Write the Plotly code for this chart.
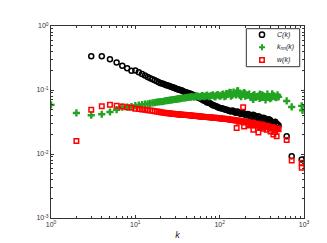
import plotly.graph_objects as go

# ---- data ----
k_C = [3, 4, 5, 6, 7, 8, 9, 10, 11, 12, 13, 14, 15, 16, 17, 18, 19, 20, 22, 24, 26, 28, 30, 32, 34, 36, 39, 42, 45, 48,
       52, 56, 60, 64, 69, 74, 80, 86, 92, 99, 106, 114, 122, 131, 141, 151, 162, 174, 187, 201, 216, 232, 249, 267,
       287, 308, 331, 355, 381, 409, 439, 471, 500, 623, 715, 939]
C_vals = [0.336, 0.336, 0.302, 0.268, 0.239, 0.218, 0.199, 0.201, 0.190, 0.178, 0.169, 0.160, 0.152, 0.147, 0.142,
          0.137, 0.132, 0.128, 0.123, 0.118, 0.113, 0.109, 0.106, 0.103, 0.100, 0.097, 0.093, 0.090, 0.087, 0.084,
          0.080, 0.076, 0.073, 0.069, 0.066, 0.063, 0.060, 0.057, 0.055, 0.053, 0.052, 0.050, 0.049, 0.047, 0.048,
          0.045, 0.046, 0.043, 0.044, 0.041, 0.042, 0.039, 0.041, 0.038, 0.039, 0.036, 0.037, 0.034, 0.035, 0.032,
          0.031, 0.030, 0.028, 0.019, 0.0092, 0.0082]
# further degrees in the dense band
k_C_band = [21, 23, 25, 27, 29, 31, 33, 35, 38, 40, 43, 46, 50, 54, 58, 62, 66, 71, 77, 83, 89, 95, 102, 110, 118,
            126, 136, 146, 156, 168, 180, 194, 208, 224, 240, 258, 277, 297, 319, 343, 368, 395, 424, 455, 485]
C_band = [0.126, 0.120, 0.116, 0.111, 0.108, 0.104, 0.101, 0.099, 0.094, 0.092, 0.089, 0.086, 0.082, 0.078, 0.074,
          0.071, 0.068, 0.064, 0.062, 0.058, 0.056, 0.054, 0.052, 0.051, 0.049, 0.048, 0.046, 0.047, 0.044, 0.045,
          0.042, 0.043, 0.040, 0.041, 0.038, 0.040, 0.037, 0.038, 0.035, 0.036, 0.033, 0.034, 0.031, 0.032, 0.029]

k_knn = [1, 2, 3, 4, 5, 6, 7, 8, 9, 10, 11, 12, 13, 14, 15, 16, 17, 18, 19, 20, 22, 24, 26, 28, 30, 32, 34, 36, 39, 42,
         45, 48, 52, 56, 60, 64, 69, 74, 80, 86, 92, 99, 106, 114, 120, 122, 131, 135, 141, 151, 162, 165, 174, 187,
         200, 201, 216, 232, 249, 250, 267, 287, 300, 308, 331, 350, 355, 381, 409, 420, 439, 471, 500,
         623, 715, 939, 960]
knn_vals = [0.0586, 0.0438, 0.0404, 0.0418, 0.0453, 0.0492, 0.054, 0.054, 0.0552, 0.0572, 0.0582, 0.0592, 0.0602,
            0.0608, 0.0617, 0.0628, 0.0636, 0.0645, 0.0651, 0.0658, 0.0670, 0.0682, 0.0694, 0.0705, 0.0715, 0.0725,
            0.0735, 0.0743, 0.0756, 0.0767, 0.0775, 0.0784, 0.080, 0.079, 0.0795, 0.080, 0.081, 0.079, 0.082, 0.080,
            0.083, 0.081, 0.084, 0.079, 0.088, 0.085, 0.092, 0.091, 0.083, 0.089, 0.097, 0.097, 0.082, 0.086, 0.089,
            0.080, 0.084, 0.078, 0.082, 0.071, 0.077, 0.080, 0.086, 0.076, 0.081, 0.070, 0.077, 0.079, 0.075, 0.087,
            0.080, 0.076, 0.078, 0.0674, 0.0543, 0.0565, 0.048]
k_knn_band = [21, 23, 25, 27, 29, 31, 33, 35, 38, 40, 43, 46, 50, 54, 58, 62, 66, 71, 77, 83, 89, 95, 102, 110, 118,
              126, 136, 146, 156, 168, 180, 194, 208, 224, 240, 258, 277, 297, 319, 343, 368, 395, 424, 455, 485]
knn_band = [0.066, 0.068, 0.069, 0.070, 0.071, 0.072, 0.073, 0.074, 0.075, 0.076, 0.077, 0.078, 0.077, 0.081, 0.078,
            0.082, 0.079, 0.083, 0.080, 0.084, 0.078, 0.085, 0.080, 0.086, 0.081, 0.087, 0.080, 0.093, 0.084, 0.088,
            0.079, 0.091, 0.082, 0.086, 0.076, 0.085, 0.079, 0.074, 0.084, 0.078, 0.086, 0.073, 0.082, 0.077, 0.084]

k_w = [2, 3, 4, 5, 6, 7, 8, 9, 10, 11, 12, 13, 14, 15, 16, 17, 18, 19, 20, 22, 24, 26, 28, 30, 32, 34, 36, 39, 42,
       45, 48, 52, 56, 60, 64, 69, 74, 80, 86, 92, 99, 106, 114, 122, 131, 141, 151, 159, 162, 174, 187, 190, 195,
       201, 216, 220, 232, 249, 251, 267, 287, 288, 300, 308, 327, 331, 355, 361, 381, 400, 409, 433, 439, 450,
       471, 474, 500, 623, 715, 939, 939]
w_vals = [0.0159, 0.0492, 0.0558, 0.0586, 0.0566, 0.0552, 0.054, 0.0528, 0.051, 0.0505, 0.0498, 0.0493, 0.0484,
          0.0477, 0.0472, 0.0467, 0.0461, 0.0456, 0.0451, 0.0443, 0.0435, 0.0429, 0.0424, 0.0420, 0.0417, 0.0414,
          0.0410, 0.0408, 0.0405, 0.0401, 0.0397, 0.0393, 0.0389, 0.0385, 0.0382, 0.0379, 0.0376, 0.0372, 0.0368,
          0.0366, 0.0362, 0.0358, 0.0354, 0.0351, 0.0347, 0.0342, 0.0337, 0.0254, 0.0333, 0.0327, 0.0322, 0.054,
          0.027, 0.0317, 0.0312, 0.028, 0.0305, 0.0300, 0.024, 0.0295, 0.0292, 0.0216, 0.026, 0.0285, 0.0248,
          0.0280, 0.0276, 0.0239, 0.0268, 0.0224, 0.0261, 0.0201, 0.0257, 0.022, 0.0248, 0.019, 0.0243,
          0.0165, 0.0079, 0.0073, 0.0061]
k_w_band = [21, 23, 25, 27, 29, 31, 33, 35, 38, 40, 43, 46, 50, 54, 58, 62, 66, 71, 77, 83, 89, 95, 102, 110, 118,
            126, 136, 146, 156, 168, 180, 194, 208, 224, 240, 258, 277, 297, 319, 343, 368, 395, 424, 455, 485]
w_band = [0.0447, 0.0439, 0.0432, 0.0426, 0.0422, 0.0418, 0.0415, 0.0412, 0.0409, 0.0406, 0.0403, 0.0399, 0.0395,
          0.0391, 0.0387, 0.0383, 0.0380, 0.0377, 0.0374, 0.0370, 0.0367, 0.0364, 0.0360, 0.0356, 0.0352, 0.0349,
          0.0344, 0.0340, 0.0335, 0.0318, 0.0330, 0.0310, 0.0320, 0.0290, 0.0310, 0.0280, 0.0298, 0.0270, 0.0288,
          0.0262, 0.0272, 0.0250, 0.0262, 0.0235, 0.0250]

series_names = ["C(k)", "k<sub>nn</sub>(k)", "w(k)"]
x_tickvals = [1, 10, 100, 1000]
x_ticktext = ["10<sup>0</sup>", "10<sup>1</sup>", "10<sup>2</sup>", "10<sup>3</sup>"]
y_tickvals = [0.001, 0.01, 0.1, 1]
y_ticktext = ["10<sup>-3</sup>", "10<sup>-2</sup>", "10<sup>-1</sup>", "10<sup>0</sup>"]

minor_x = [m * 10 ** e for e in range(0, 3) for m in range(2, 10)]
minor_y = [m * 10.0 ** e for e in range(-3, 0) for m in range(2, 10)]

BLACK = "black"
GREEN = "#22a422"
RED = "#ff0000"
FONT = "Liberation Sans, Arial"

fig = go.Figure()
fig.add_trace(go.Scatter(x=k_C + k_C_band, y=C_vals + C_band, mode="markers", name=series_names[0],
                         showlegend=False,
                         marker=dict(symbol="circle-open", size=5, color=BLACK, line=dict(width=1.5, color=BLACK))))
fig.add_trace(go.Scatter(x=k_knn + k_knn_band, y=knn_vals + knn_band, mode="markers", name=series_names[1],
                         showlegend=False,
                         marker=dict(symbol="cross", size=6, color=GREEN, line=dict(width=0))))
fig.add_trace(go.Scatter(x=k_w + k_w_band, y=w_vals + w_band, mode="markers", name=series_names[2],
                         showlegend=False,
                         marker=dict(symbol="square-open", size=4.5, color=RED, line=dict(width=1.5, color=RED))))

axis_common = dict(
    type="log", showgrid=False, zeroline=False, showline=True, linecolor="#333", linewidth=1,
    mirror="ticks", ticks="inside", ticklen=3, tickcolor="#333", tickwidth=1,
    tickfont=dict(family=FONT, size=7, color="#333"),
)

fig.update_xaxes(range=[0, 3], tickmode="array", tickvals=x_tickvals, ticktext=x_ticktext,
                 minor=dict(tickmode="array", tickvals=minor_x, ticks="inside", ticklen=2, tickcolor="#333"),
                 title=dict(text="<i>k</i>", font=dict(family=FONT, size=9, color="#222"), standoff=4),
                 **axis_common)
fig.update_yaxes(range=[-3, 0], tickmode="array", tickvals=y_tickvals, ticktext=y_ticktext,
                 minor=dict(tickmode="array", tickvals=minor_y, ticks="inside", ticklen=2, tickcolor="#333"),
                 **axis_common)

# ---- compact legend box (drawn with shapes + text) ----
shapes = [dict(type="rect", xref="paper", yref="paper", x0=0.772, x1=0.983, y0=0.788, y1=0.986,
               line=dict(color="#333", width=1), fillcolor="white", layer="above")]
rows = [0.955, 0.889, 0.823]
sx = 0.834
shapes.append(dict(type="circle", xref="paper", yref="paper", xsizemode="pixel", ysizemode="pixel",
                   xanchor=sx, yanchor=rows[0], x0=-2.6, x1=2.6, y0=-2.6, y1=2.6,
                   line=dict(color=BLACK, width=1.5), layer="above"))
shapes.append(dict(type="path", xref="paper", yref="paper", xsizemode="pixel", ysizemode="pixel",
                   xanchor=sx, yanchor=rows[1],
                   path="M-1,-3 L1,-3 L1,-1 L3,-1 L3,1 L1,1 L1,3 L-1,3 L-1,1 L-3,1 L-3,-1 L-1,-1 Z",
                   fillcolor=GREEN, line=dict(width=0), layer="above"))
shapes.append(dict(type="rect", xref="paper", yref="paper", xsizemode="pixel", ysizemode="pixel",
                   xanchor=sx, yanchor=rows[2], x0=-2.2, x1=2.2, y0=-2.2, y1=2.2,
                   line=dict(color=RED, width=1.5), layer="above"))

annotations = []
for name, ry in zip(series_names, rows):
    annotations.append(dict(xref="paper", yref="paper", x=0.885, y=ry, xanchor="left", yanchor="middle",
                            text="<i>" + name + "</i>", showarrow=False,
                            font=dict(family=FONT, size=7, color="#222")))

fig.update_layout(
    width=327, height=243,
    margin=dict(l=43, r=31, t=18, b=27),
    paper_bgcolor="white", plot_bgcolor="white",
    showlegend=False,
    shapes=shapes, annotations=annotations,
)

fig.write_html("out.html")
